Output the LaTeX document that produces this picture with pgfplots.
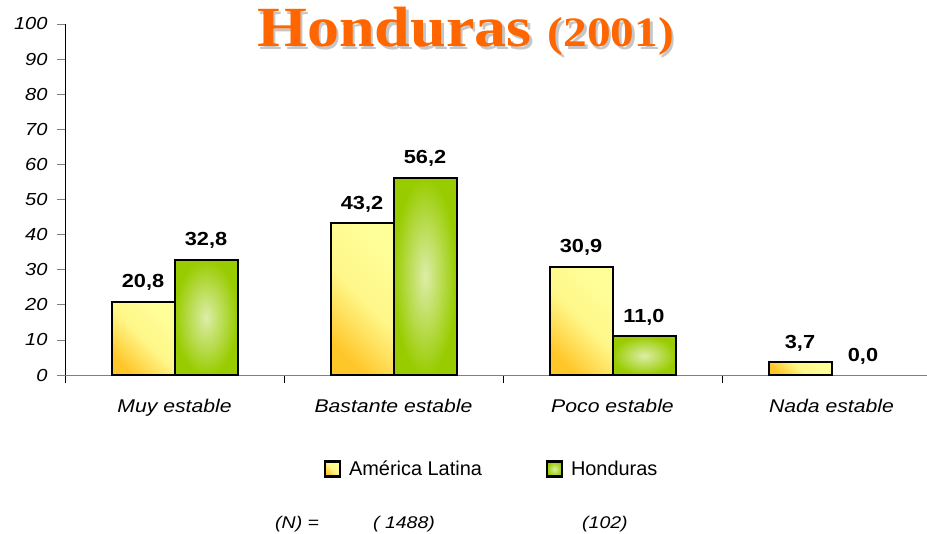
\documentclass[border=0pt]{standalone}
\usepackage{pgfplots}
\pgfplotsset{compat=1.18}
\usepackage{fontspec}
\setmainfont{Liberation Sans}
\newfontfamily\widefont[FakeStretch=1.15]{Liberation Sans}
\newfontfamily\titlefont[FakeStretch=1.13]{Liberation Serif}
\definecolor{ydark}{HTML}{FFC629}
\definecolor{ylight}{HTML}{FFFF99}
\definecolor{gdark}{HTML}{99CC00}
\definecolor{glight}{HTML}{DCEDA8}
\definecolor{torange}{HTML}{FF6600}

\begin{document}
\begin{tikzpicture}
\useasboundingbox (-65bp,-159bp) rectangle (862bp,375bp);
\begin{axis}[
    scale only axis,
    width=862bp, height=351bp,
    xmin=-0.5, xmax=3.436,
    ymin=0, ymax=100,
    ytick={0,10,...,100},
    xtick={0,1,2,3},
    xticklabels={Muy estable,Bastante estable,Poco estable,Nada estable},
    minor xtick={-0.5,0.5,1.5,2.5},
    axis lines*=left,
    x axis line style={gray, line width=0.8bp},
    y axis line style={black, line width=0.8bp},
    tick align=outside,
    major tick length=8bp,
    minor tick length=8bp,
    xtick style={draw=none},
    minor x tick style={draw=black, line width=0.6bp},
    ytick style={draw=gray, line width=0.8bp},
    /pgf/number format/assume math mode=true,
    yticklabel style={font=\widefont\itshape\fontsize{17.5}{18}\selectfont, anchor=east, xshift=-6bp},
    xticklabel style={font=\widefont\itshape\fontsize{18.5}{20}\selectfont, anchor=base, yshift=-29bp},
    ybar,
    bar width=63bp,
    clip=false,
    nodes near coords={\pgfmathprintnumber[fixed,fixed zerofill,precision=1,use comma,assume math mode=true]{\pgfplotspointmeta}},
    nodes near coords style={font=\widefont\bfseries\fontsize{19}{20}\selectfont, anchor=base, yshift=14bp},
    legend columns=2,
    legend style={at={(0.495,-0.268)}, anchor=center, draw=none,
        font=\fontsize{20}{22}\selectfont,
        /tikz/every even column/.append style={column sep=62bp}},
    legend image code/.code={\draw[#1, draw=black, line width=2.2bp] (0bp,-7.5bp) rectangle (15bp,7.5bp); \path (21bp,0bp);},
    yel/.style={bar shift=-31.5bp, draw=black, line width=2bp,
        bottom color=ydark, top color=ylight, middle color=ylight!85!ydark, shading angle=-45},
    grn/.style={bar shift=31.5bp, draw=black, line width=2bp,
        inner color=glight, outer color=gdark},
]
% América Latina / Honduras, one bar per plot so each bar gets its own shading
\addplot[yel] coordinates {(0,20.8)};
\addplot[grn] coordinates {(0,32.8)};
\addplot[yel, forget plot] coordinates {(1,43.2)};
\addplot[yel, forget plot] coordinates {(2,30.9)};
\addplot[yel, forget plot] coordinates {(3,3.7)};
\addplot[grn, forget plot] coordinates {(1,56.2)};
\addplot[grn, forget plot] coordinates {(2,11.0)};
\addplot[grn, forget plot, draw=none, fill=none, shade=false] coordinates {(3,0.0)};
\legend{América Latina, Honduras}
\end{axis}
% title with shadow
\node[anchor=base west, inner sep=0, text=gray!45] at (194.5bp,325.5bp)
    {\titlefont\bfseries\fontsize{57}{60}\selectfont Honduras \fontsize{42}{46}\selectfont(2001)};
\node[anchor=base west, inner sep=0, text=torange] at (192bp,328bp)
    {\titlefont\bfseries\fontsize{57}{60}\selectfont Honduras \fontsize{42}{46}\selectfont(2001)};
% sample sizes
\node[anchor=base west, inner sep=0] at (210bp,-153bp) {\widefont\itshape\fontsize{17}{18}\selectfont (N) =};
\node[anchor=base west, inner sep=0] at (308bp,-153bp) {\widefont\itshape\fontsize{17}{18}\selectfont ( 1488)};
\node[anchor=base west, inner sep=0] at (517bp,-153bp) {\widefont\itshape\fontsize{17}{18}\selectfont (102)};
\end{tikzpicture}
\end{document}
